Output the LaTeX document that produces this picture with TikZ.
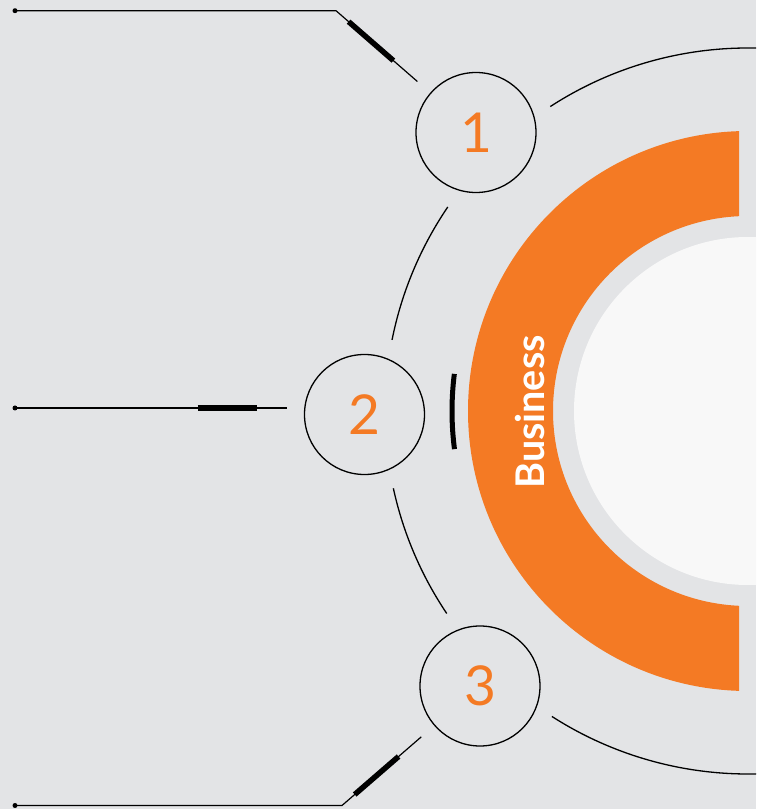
\documentclass[tikz,border=0pt]{standalone}
\usepackage{fontspec}
\setmainfont{Lato}
\usepackage{xcolor}
\definecolor{bizorange}{HTML}{F47A24}
\definecolor{bggray}{HTML}{E3E4E6}
\definecolor{discwhite}{HTML}{F8F8F8}
\usetikzlibrary{calc}
\tikzset{
  numcirc/.style={circle, draw=black, line width=1.3pt, minimum size=120pt, inner sep=0pt,
                  text=bizorange, font=\fontsize{55}{55}\selectfont},
  dotend/.style ={circle, fill=black, inner sep=0pt, minimum size=5pt},
  wire/.style   ={line width=1.2pt, shorten >=17pt},
  wbar/.style   ={line width=5.5pt},
  ringarc/.style={line width=1.3pt},
  bizlabel/.style={font=\fontsize{39.5}{39.5}\selectfont\bfseries, text=white, rotate=90,
                  anchor=base, inner sep=0pt},
}

\begin{document}
\begin{tikzpicture}[x=1pt, y=1pt]
  \fill[bggray] (0,0) rectangle (756,809);
  \useasboundingbox (0,0) rectangle (756,809);
  \clip (0,0) rectangle (756,809);
  \coordinate (O) at (748,398);

  % orange band and disc
  \begin{scope}
    \clip (0,0) rectangle (739,809);
    \fill[bizorange, even odd rule] (O) circle[radius=280] (O) circle[radius=195];
  \end{scope}
  \fill[discwhite] (O) circle[radius=174];
  \node[bizlabel] (biz) at (544,397) {Business};

  % outer ring, broken at the circles
  \foreach \a/\b in {123/85, 145.8/168.7, 192.3/213.9, 237.3/275}
    \draw[ringarc] (O) ++(\a:363) arc[start angle=\a, end angle=\b, radius=363];
  \draw[line width=5pt] (O) ++(172.8:296) arc[start angle=172.8, end angle=187.4, radius=296];

  \node[numcirc] (c1) at (476,676.5) {1};
  \node[numcirc] (c2) at (364.5,394.5) {2};
  \node[numcirc] (c3) at (480,123) {3};

  % leader lines
  \node[dotend] (d1) at (15,798.3) {};
  \node[dotend] (d2) at (15,401) {};
  \node[dotend] (d3) at (15,3.5) {};
  \coordinate (k1) at (336,798.3);
  \coordinate (k3) at (342,3.5);
  \coordinate (e2) at (d2 -| c2.west);
  \draw[wire] (d1.center) -- (k1) -- (c1);
  \draw[wire] (d2.center) -- (e2);
  \draw[wire] (d3.center) -- (k3) -- (c3);
  \draw[wbar] ($(k1)!0.09!(c1)$) -- ($(k1)!0.41!(c1)$);
  \draw[wbar] ($(d2)!0.633!(e2)$) -- ($(d2)!0.837!(e2)$);
  \draw[wbar] ($(k3)!0.092!(c3)$) -- ($(k3)!0.41!(c3)$);
\end{tikzpicture}
\end{document}
